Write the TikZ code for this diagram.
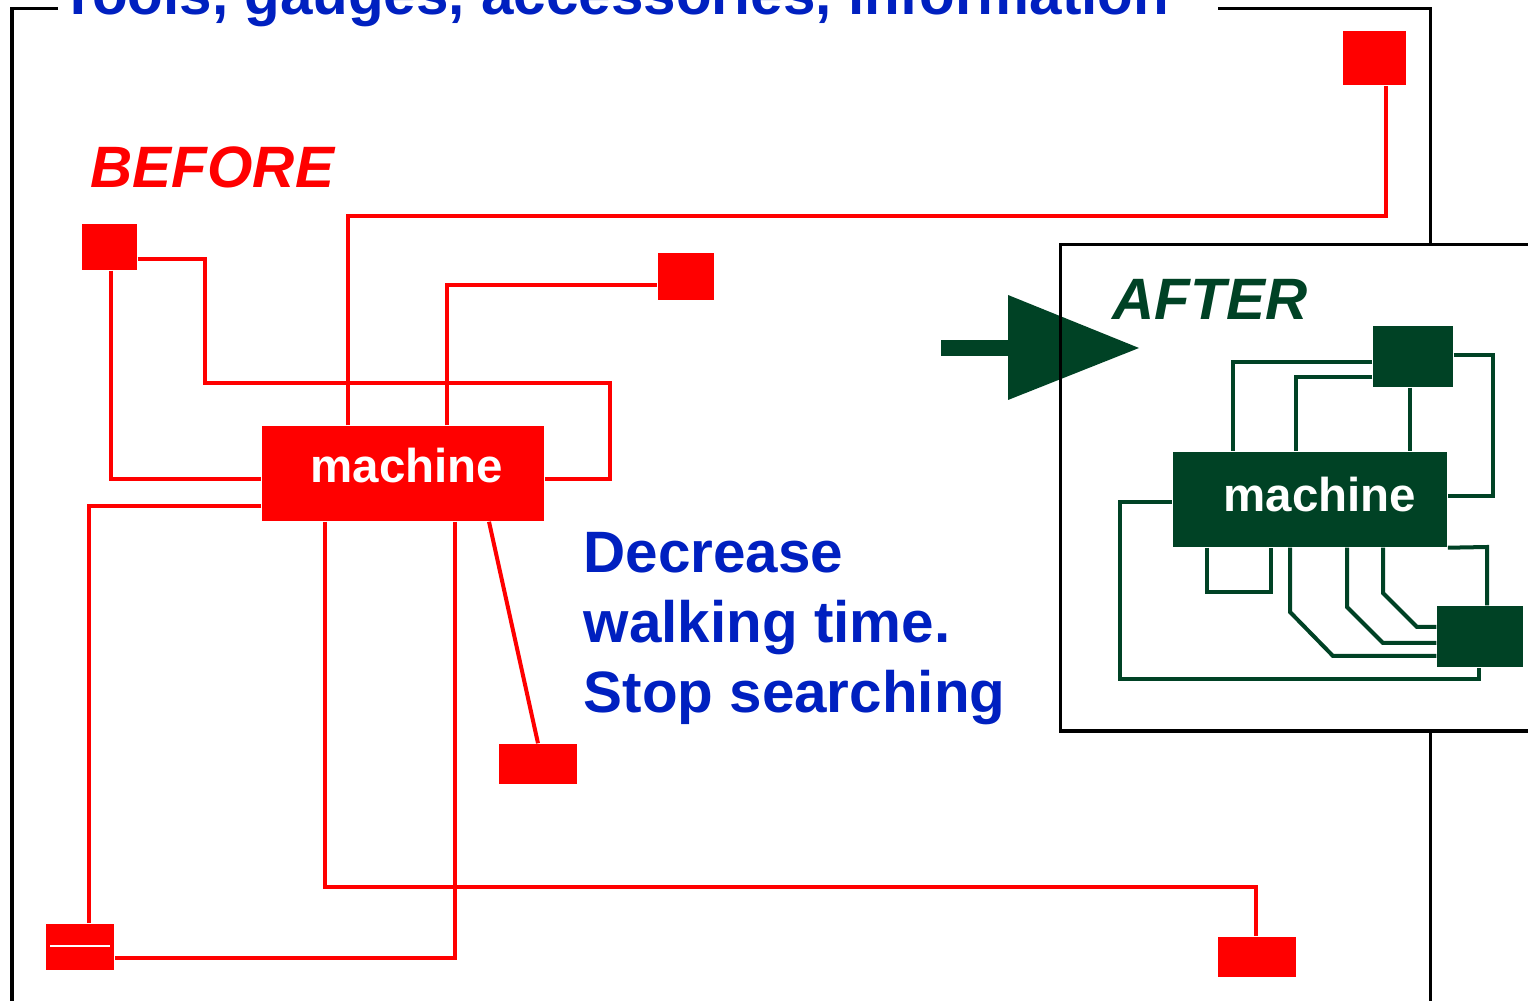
\documentclass[tikz,border=0pt]{standalone}
\usepackage{fontspec}
\setmainfont{Liberation Sans}
\definecolor{afterGreen}{RGB}{0,66,37}
\definecolor{titleBlue}{RGB}{0,32,192}
\begin{document}
\begin{tikzpicture}[
    x=0.01cm, y=-0.01cm,
    redbox/.style={rectangle, fill=red, inner sep=0pt, text=white, font=\fontsize{13.5}{16}\selectfont\bfseries},
    greenbox/.style={rectangle, fill=afterGreen, inner sep=0pt, text=white, font=\fontsize{13.5}{16}\selectfont\bfseries},
    redline/.style={draw=red, line width=0.04cm},
    greenline/.style={draw=afterGreen, line width=0.04cm},
    bigtext/.style={inner sep=0pt, anchor=base west, font=\fontsize{16.6}{19.9}\selectfont\bfseries}
]
    \useasboundingbox (0,0) rectangle (1528,1001);

    % outer frame with title
    \draw[line width=0.03cm] (58,9) -- (12,9) -- (12,1020);
    \draw[line width=0.03cm] (1218,9) -- (1430,9) -- (1430,1020);
    \node[bigtext, text=titleBlue] (title) at (60,15) {Tools, gauges, accessories, information};

    % before
    \node[bigtext, text=red, font=\fontsize{16.6}{19.9}\selectfont\bfseries\itshape] (before) at (90,188) {BEFORE};
    \node[redbox, minimum width=2.82cm, minimum height=0.95cm, text height=7.2pt, text depth=2pt] (machine) at (403,473.5) {\hspace*{0.08cm}machine};
    \node[redbox, minimum width=0.63cm, minimum height=0.54cm] (gaugeA) at (1374.5,58) {};
    \node[redbox, minimum width=0.55cm, minimum height=0.46cm] (gaugeB) at (109.5,247) {};
    \node[redbox, minimum width=0.56cm, minimum height=0.47cm] (gaugeC) at (686,276.5) {};
    \node[redbox, minimum width=0.78cm, minimum height=0.40cm] (gaugeD) at (538,764) {};
    \node[redbox, minimum width=0.68cm, minimum height=0.46cm] (gaugeE) at (80,947) {};
    \node[redbox, minimum width=0.78cm, minimum height=0.40cm] (gaugeF) at (1257,957) {};
    \draw[white, line width=0.015cm] (50,946) -- (110,946);

    \draw[redline] (machine.north -| 348,0) |- (1386,216) -- (gaugeA.south -| 1386,0);
    \draw[redline] (gaugeB.east |- 0,259) -- (205,259) |- (610,383) |- (machine.east |- 0,479);
    \draw[redline] (gaugeB.south -| 111,0) |- (machine.west |- 0,479);
    \draw[redline] (machine.north -| 447,0) |- (gaugeC.west |- 0,285);
    \draw[redline] (machine.west |- 0,506) -| (gaugeE.north -| 89,0);
    \draw[redline] (machine.south -| 325,0) |- (1256,887) -- (gaugeF.north -| 1256,0);
    \draw[redline] (machine.south -| 455,0) |- (gaugeE.east |- 0,958);
    \draw[redline] (machine.south -| 489,0) -- (gaugeD.north);

    \node[bigtext, text=titleBlue, align=left] (goal) at (583,712) {Decrease\\walking time.\\Stop searching};

    % after
    \fill[white] (1060,245) rectangle (1540,731);
    \fill[afterGreen] (941,340) rectangle (1012,356);
    \fill[afterGreen] (1008,295) -- (1139,348) -- (1008,400) -- cycle;
    \draw[line width=0.03cm] (1540,245) -- (1060,245) -- (1060,731) -- (1540,731);
    \node[bigtext, text=afterGreen, font=\fontsize{16.6}{19.9}\selectfont\bfseries\itshape] (after) at (1112,320) {AFTER};
    \node[greenbox, minimum width=2.74cm, minimum height=0.95cm, text height=8.9pt, text depth=2pt] (machineNew) at (1310,499.5) {\hspace*{0.2cm}machine};
    \node[greenbox, minimum width=0.80cm, minimum height=0.61cm] (toolTop) at (1413,356.5) {};
    \node[greenbox, minimum width=0.86cm, minimum height=0.61cm] (toolBottom) at (1480,636.5) {};

    \draw[greenline] (toolTop.west |- 0,362) -| (machineNew.north -| 1233,0);
    \draw[greenline] (toolTop.west |- 0,377) -| (machineNew.north -| 1296,0);
    \draw[greenline] (toolTop.south -| 1410,0) -- (machineNew.north -| 1410,0);
    \draw[greenline] (toolTop.east |- 0,355) -| (1493,496) -- (machineNew.east |- 0,496);
    \draw[greenline] (machineNew.west |- 0,502) -| (1120,679) -| (toolBottom.south -| 1479,0);
    \draw[greenline] (machineNew.south -| 1207,0) |- (1271,592) -- (machineNew.south -| 1271,0);
    \draw[greenline] (machineNew.south -| 1290,0) -- (1290,612) -- (1333,656) -- (toolBottom.west |- 0,656);
    \draw[greenline] (machineNew.south -| 1347,0) -- (1347,607) -- (1383,643) -- (toolBottom.west |- 0,643);
    \draw[greenline] (machineNew.south -| 1383,0) -- (1383,593) -- (1417,627) -- (toolBottom.west |- 0,627);
    \draw[greenline] (machineNew.south east) -- (1487,547) -- (toolBottom.north -| 1487,0);
\end{tikzpicture}
\end{document}
